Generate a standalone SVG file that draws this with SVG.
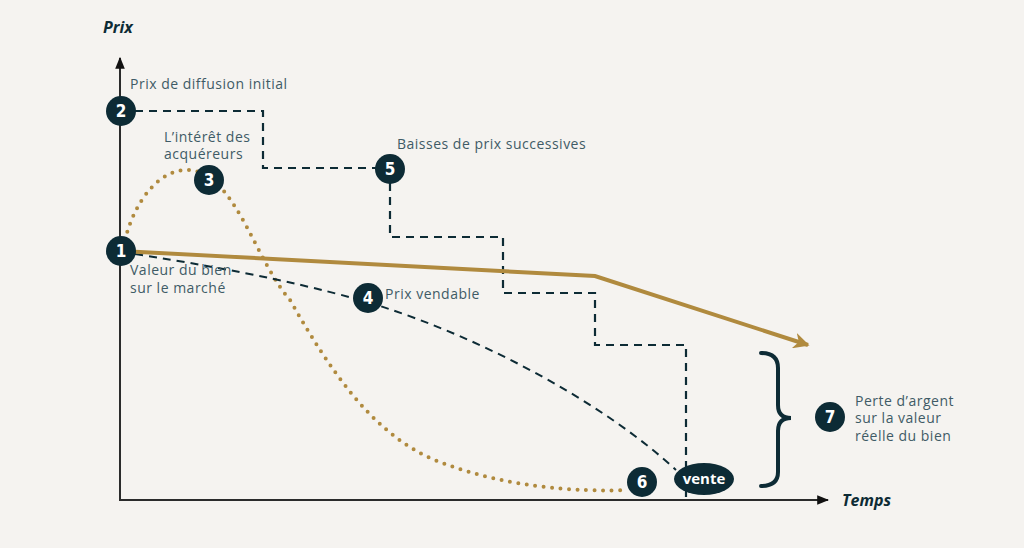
<svg xmlns="http://www.w3.org/2000/svg" width="1024" height="548" viewBox="0 0 1024 548">
<defs>
<style>
.lbl{font-family:"Open Sans","Liberation Sans",sans-serif;font-size:14px;letter-spacing:0.5px;fill:#3f5b66}
.axl{font-family:"Open Sans","Liberation Sans",sans-serif;font-size:16px;font-weight:700;font-style:italic;fill:#0d2b35}
.num{font-family:"DejaVu Sans Condensed","Liberation Sans",sans-serif;font-size:17px;font-weight:700;fill:#fff;text-anchor:middle}
.dot{fill:#0d2b35}
.stair{fill:none;stroke:#0d2b35;stroke-width:2.2;stroke-dasharray:8 6}
.gold{fill:none;stroke:#b08a3e;stroke-width:4}
.dotted{fill:none;stroke:#b08a3e;stroke-width:4;stroke-linecap:round;stroke-dasharray:0 8.5}
.axis{fill:none;stroke:#2b2b2b;stroke-width:2}
</style>
<marker id="ah" viewBox="0 0 10 10" refX="9" refY="5" markerWidth="4" markerHeight="4" orient="auto" markerUnits="strokeWidth"><path d="M0,0 L10,5 L0,10 L3,5 Z" fill="#b08a3e"/></marker>
<marker id="axh" viewBox="0 0 10 10" refX="9" refY="5" markerWidth="6" markerHeight="6" orient="auto" markerUnits="strokeWidth"><path d="M0,1 L10,5 L0,9 Z" fill="#111"/></marker>
</defs>
<rect width="1024" height="548" fill="#f5f3f0"/>
<g id="axes">
<line class="axis" x1="120" y1="501" x2="120" y2="58" marker-end="url(#axh)"/>
<line class="axis" x1="119" y1="500" x2="828" y2="500" marker-end="url(#axh)"/>
<text class="axl" x="103" y="33">Prix</text>
<text class="axl" x="842" y="506">Temps</text>
</g>
<g id="connectors">
<path class="stair" d="M135,111 H263 V168 H376 M390,183 V237 H503 V293 H595 V345 H686 V500"/>
<path class="dotted" d="M125,240 C135,200 160,168 190,170 C235,174 255,260 290,300 C330,370 370,430 430,458 C500,488 580,492 628,490"/>
<path fill="none" stroke="#0d2b35" stroke-width="2" stroke-dasharray="8 6" d="M135,254 Q290,278 380,306 C480,338 600,400 676,470"/>
<path class="gold" d="M121,251 L595,276 L808,345" marker-end="url(#ah)"/>
<path fill="none" stroke="#0d2b35" stroke-width="4" stroke-linecap="round" d="M761,353 Q778,353 778,368 V405 Q778,418 791,418 Q778,418 778,431 V472 Q778,486 761,486"/>
</g>
<g id="n1"><circle class="dot" cx="121" cy="251" r="15"/><text class="num" x="121" y="257">1</text></g>
<g id="n2"><circle class="dot" cx="121" cy="111" r="15"/><text class="num" x="121" y="117">2</text></g>
<g id="n3"><circle class="dot" cx="209" cy="180" r="15"/><text class="num" x="209" y="186">3</text></g>
<g id="n4"><circle class="dot" cx="368" cy="298" r="15"/><text class="num" x="368" y="304">4</text></g>
<g id="n5"><circle class="dot" cx="390" cy="169" r="15"/><text class="num" x="390" y="175">5</text></g>
<g id="n6"><circle class="dot" cx="642" cy="482" r="15"/><text class="num" x="642" y="488">6</text></g>
<g id="n7"><circle class="dot" cx="830" cy="417" r="15"/><text class="num" x="830" y="423">7</text></g>
<g id="vente"><ellipse class="dot" cx="704" cy="479" rx="30" ry="16"/><text x="704" y="484" text-anchor="middle" font-family="'Open Sans','Liberation Sans',sans-serif" font-size="15" font-weight="700" fill="#fff">vente</text></g>
<g id="labels">
<text class="lbl" x="130" y="89">Prix de diffusion initial</text>
<text class="lbl" x="164" y="142">L’intérêt des</text>
<text class="lbl" x="164" y="159">acquéreurs</text>
<text class="lbl" x="130" y="275">Valeur du bien</text>
<text class="lbl" x="130" y="293">sur le marché</text>
<text class="lbl" x="385" y="299">Prix vendable</text>
<text class="lbl" x="397" y="149">Baisses de prix successives</text>
<text class="lbl" x="855" y="406">Perte d’argent</text>
<text class="lbl" x="855" y="423">sur la valeur</text>
<text class="lbl" x="855" y="441">réelle du bien</text>
</g>
</svg>
